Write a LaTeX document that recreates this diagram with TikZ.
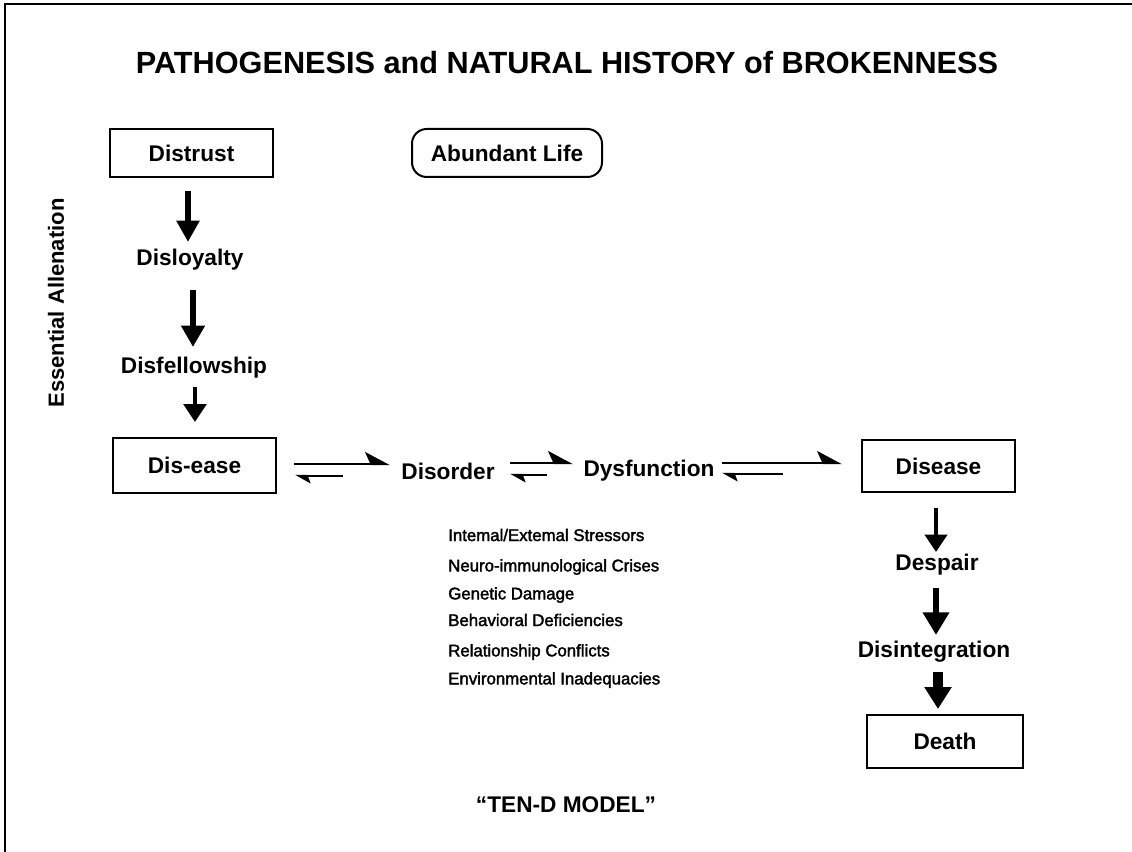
\documentclass[tikz,border=0pt]{standalone}
\usepackage{fontspec}
\setmainfont{Liberation Sans}
\newfontfamily\listfont[FakeBold=2]{Liberation Sans}
\usetikzlibrary{arrows.meta,calc}
\begin{document}
\begin{tikzpicture}[x=0.75pt,y=-0.75pt,
  lbl/.style={font=\bfseries\fontsize{17}{20}\selectfont, inner sep=0pt},
  boxed/.style={draw, line width=1.5pt, minimum width=#1*0.75pt, inner sep=0pt, font=\bfseries\fontsize{17}{20}\selectfont},
  item/.style={anchor=west, inner sep=0pt, font=\listfont\fontsize{12.6}{14}\selectfont},
  harpR/.style={line width=1.8pt, -{Stealth[harpoon,length=17pt,width=18pt,inset=4pt]}},
  harpL/.style={line width=1.8pt, -{Stealth[harpoon,length=10pt,width=11pt,inset=2pt]}},
  fatarrow/.style n args={3}{line width=#1, -{Triangle[length=#2,width=#3]}}
]
\useasboundingbox (0,0) rectangle (1132,852);
% frame
\draw[line width=1.5pt] (5,852) -- (5,4) -- (1132,4);
% title
\node[font=\bfseries\fontsize{23}{26}\selectfont] (title) at (567,63) {PATHOGENESIS and NATURAL HISTORY of BROKENNESS};
% side label
\node[rotate=90, font=\bfseries\fontsize{16.5}{19}\selectfont, inner sep=0pt] (ess) at (56,303) {Essential Allenation};
% left column
\node[boxed=163, minimum height=48*0.75pt] (distrust) at (191.5,153) {Distrust};
\node[draw, line width=1.5pt, rounded corners=11pt, minimum width=190*0.75pt, minimum height=48*0.75pt, inner sep=0pt, font=\bfseries\fontsize{17}{20}\selectfont] (life) at (507,153) {Abundant Life};
\node[lbl] (disloyalty) at (190,260) {Disloyalty};
\node[lbl] (disfellow) at (194,368) {Disfellowship};
\node[boxed=163, minimum height=55*0.75pt] (dis) at (194.5,465.5) {Dis-ease};
\draw[fatarrow={5pt}{16pt}{16.5pt}] ($(distrust.south)+(-3.5,13)$) -- ($(disloyalty.center)+(-2,-18)$);
\draw[fatarrow={5pt}{16pt}{17pt}] ($(disloyalty.center)+(3,30)$) -- ($(disfellow.center)+(-1,-21)$);
\draw[fatarrow={3pt}{13.5pt}{17pt}] ($(disfellow.center)+(1,19)$) -- ($(dis.north)+(0.5,-15)$);
% middle row
\node[lbl] (disorder) at (448,471) {Disorder};
\node[lbl] (dysf) at (649,471) {Dysfunction};
\node[boxed=153, minimum height=52*0.75pt] (disease) at (938.5,466) {Disease};
\draw[harpR] ($(dis.east)+(17,-1.5)$) -- ($(disorder.center)+(-58,-7)$);
\draw[harpL] ($(disorder.center)+(-105,5)$) -- ($(disorder.center)+(-153,5)$);
\draw[harpR] ($(disorder.center)+(62,-8)$) -- ($(dysf.center)+(-76,-8)$);
\draw[harpL] ($(disorder.center)+(99,4)$) -- ($(disorder.center)+(62,4)$);
\draw[harpR] ($(dysf.center)+(73,-8)$) -- ($(disease.west)+(-19,-3)$);
\draw[harpL] ($(dysf.center)+(134,3)$) -- ($(dysf.center)+(73,3)$);
% right column
\node[lbl] (despair) at (937,565) {Despair};
\node[lbl] (disint) at (934,652) {Disintegration};
\node[boxed=156, minimum height=53*0.75pt] (death) at (945,741.5) {Death};
\draw[fatarrow={3pt}{13pt}{16.5pt}] ($(disease.south)+(-2.5,15)$) -- ($(despair.center)+(-1,-13)$);
\draw[fatarrow={5pt}{17pt}{19pt}] ($(despair.center)+(-1,23)$) -- ($(disint.center)+(2,-17)$);
\draw[fatarrow={8pt}{16.5pt}{19.5pt}] ($(disint.center)+(4,20)$) -- ($(death.north)+(-7,-5)$);
% list of causes
\node[item] (l1) at (448,535) {Intemal/Extemal Stressors};
\node[item] (l2) at (448,567) {Neuro-immunological Crises};
\node[item] (l3) at (448,595) {Genetic Damage};
\node[item] (l4) at (448,620) {Behavioral Deficiencies};
\node[item] (l5) at (448,652) {Relationship Conflicts};
\node[item] (l6) at (448,680) {Environmental Inadequacies};
% caption
\node[lbl] (model) at (566,805) {“TEN-D MODEL”};
\end{tikzpicture}
\end{document}
